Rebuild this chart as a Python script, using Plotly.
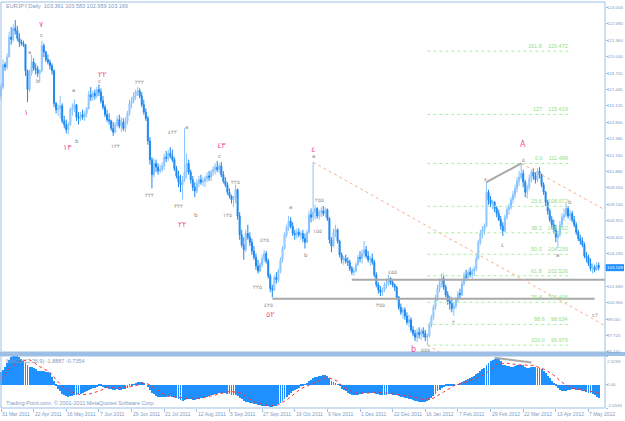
import plotly.graph_objects as go

W, H = 625, 421

# ---------------- data ----------------
first_open = 116.9
closes = [117.6, 119.4, 119.2, 120.0, 121.6, 121.4, 122.3, 122.1, 121.5, 121.2,
          121.1, 121.0, 118.9, 117.4, 118.7, 119.6, 119.1, 119.0, 118.7, 118.9,
          120.9, 120.4, 119.8, 119.6, 119.3, 118.9, 116.3, 115.8, 115.9, 116.1,
          114.9, 114.6, 114.2, 114.6, 115.8, 115.9, 116.2, 115.2, 115.1, 115.4,
          115.2, 115.5, 115.9, 117.0, 116.8, 117.1, 116.9, 117.4, 117.2, 116.5,
          116.0, 115.4, 115.0, 114.9, 114.3, 114.0, 114.6, 115.0, 114.5, 114.8,
          114.3, 114.9, 115.5, 116.3, 116.5, 116.9, 117.2, 117.3, 116.9, 116.2,
          115.6, 115.1, 113.3, 111.8, 110.6, 111.5, 111.2, 110.9, 111.0, 111.3,
          112.0, 111.9, 112.3, 112.1, 111.8, 111.1, 110.5, 110.0, 109.8, 110.2,
          110.8, 111.5, 110.8, 110.2, 109.6, 109.3, 109.9, 110.2, 110.0, 110.1,
          110.3, 110.5, 110.4, 110.8, 111.0, 111.2, 111.0, 111.3, 110.6, 110.1,
          109.8, 109.2, 108.9, 108.6, 108.7, 109.4, 107.3, 105.8, 105.0, 104.6,
          105.9, 105.6, 105.2, 104.5, 104.0, 103.3, 102.9, 103.4, 103.9, 104.3,
          103.7, 102.5, 101.5, 101.4, 102.4, 102.2, 102.9, 103.8, 104.7, 105.8,
          106.4, 106.9, 106.5, 105.9, 105.8, 106.0, 105.8, 105.9, 105.5, 105.2,
          106.0, 107.4, 107.2, 107.6, 107.9, 107.3, 107.6, 107.7, 107.5, 107.8,
          107.1, 105.4, 104.9, 106.0, 106.2, 105.3, 104.2, 103.8, 103.9, 103.7,
          103.6, 103.1, 102.8, 102.9, 103.4, 104.0, 103.9, 104.3, 104.6, 104.1,
          103.8, 103.9, 103.6, 102.6, 101.8, 101.4, 101.2, 101.4, 101.8, 101.9,
          102.3, 102.0, 101.8, 101.6, 100.8, 100.0, 99.6, 99.8, 99.3, 98.8,
          99.0, 98.2, 97.9, 97.6, 98.0, 97.8, 98.1, 97.9, 97.6, 97.7,
          98.6, 99.2, 100.0, 100.8, 101.5, 101.9, 102.3, 101.6, 101.0, 100.5,
          100.3, 99.9, 100.1, 100.6, 101.1, 101.0, 101.9, 102.6, 102.4, 102.8,
          102.6, 102.9, 103.1, 103.9, 105.2, 105.9, 106.2, 106.5, 109.2, 108.6,
          108.3, 108.4, 107.9, 107.5, 107.0, 106.5, 106.1, 107.2, 107.8, 108.0,
          108.6, 109.0, 109.5, 110.1, 110.4, 110.7, 110.0, 109.2, 109.6, 110.3,
          110.8, 110.5, 110.2, 110.9, 110.6, 109.8, 109.2, 108.4, 107.7, 107.0,
          106.6, 106.2, 105.6, 105.8, 106.6, 107.2, 107.4, 107.9, 107.3, 107.5,
          107.0, 106.6, 106.0, 105.5, 105.3, 105.0, 104.1, 104.0, 103.5, 103.1,
          103.2, 103.0, 103.36, 103.169]
highs = [117.9, 119.8, 119.6, 120.3, 122.0, 122.4, 122.6, 122.95, 122.5, 121.9,
         121.4, 121.3, 121.0, 119.0, 119.0, 120.2, 119.9, 119.5, 119.3, 119.0,
         121.3, 121.1, 120.5, 120.2, 119.8, 119.5, 119.0, 116.4, 116.2, 116.9,
         116.3, 115.3, 115.0, 114.8, 116.0, 116.3, 116.6, 116.2, 115.6, 115.6,
         115.8, 115.7, 116.0, 117.3, 117.6, 117.3, 117.4, 117.6, 117.8, 117.5,
         116.9, 116.2, 115.8, 115.5, 115.0, 114.8, 114.8, 115.3, 115.4, 115.2,
         115.1, 115.2, 115.7, 116.6, 116.8, 117.2, 117.4, 117.6, 117.5, 117.2,
         116.6, 115.9, 115.3, 113.6, 112.0, 111.9, 111.8, 111.5, 111.4, 111.6,
         112.3, 112.5, 112.6, 112.8, 112.6, 112.0, 111.3, 110.9, 110.6, 110.5,
         114.3, 112.3, 111.8, 111.0, 110.5, 110.0, 110.2, 110.5, 110.6, 110.4,
         110.5, 110.8, 110.9, 111.0, 111.3, 111.5, 111.7, 111.5, 111.6, 110.9,
         110.4, 110.0, 109.5, 109.0, 108.9, 109.8, 109.5, 107.6, 106.2, 105.6,
         106.2, 106.6, 106.0, 105.5, 104.9, 104.3, 103.8, 103.6, 104.2, 104.6,
         104.5, 103.9, 102.7, 101.8, 102.6, 102.8, 103.1, 104.0, 104.9, 106.0,
         106.6, 107.3, 107.2, 106.8, 106.2, 106.3, 106.3, 106.1, 106.2, 105.9,
         106.2, 107.7, 107.9, 111.6, 108.2, 108.0, 107.8, 108.0, 108.1, 108.0,
         107.9, 107.2, 105.6, 106.3, 106.6, 106.3, 105.4, 104.4, 104.1, 104.2,
         104.0, 103.8, 103.3, 103.2, 103.6, 104.2, 104.5, 104.6, 105.3, 104.9,
         104.5, 104.1, 104.3, 103.8, 102.8, 102.0, 101.7, 101.6, 102.0, 102.3,
         102.6, 102.4, 102.2, 101.9, 101.7, 100.9, 100.3, 100.0, 100.0, 99.6,
         99.4, 99.2, 98.5, 98.2, 98.3, 98.4, 98.3, 98.4, 98.2, 97.9,
         98.8, 99.4, 100.2, 101.0, 101.8, 102.3, 102.7, 102.5, 101.8, 101.3,
         100.9, 100.8, 100.4, 100.8, 101.3, 101.5, 102.2, 102.8, 103.0, 103.0,
         103.2, 103.1, 103.3, 104.2, 105.4, 106.2, 106.5, 106.7, 110.0, 109.4,
         108.9, 108.6, 108.5, 108.1, 107.8, 107.3, 106.8, 107.4, 108.0, 108.3,
         108.8, 109.3, 109.8, 110.4, 110.9, 111.5, 111.0, 110.2, 109.8, 110.6,
         111.0, 111.1, 110.8, 111.1, 111.2, 110.7, 110.0, 109.3, 108.6, 107.9,
         107.3, 107.0, 106.6, 106.1, 106.9, 107.5, 107.9, 108.3, 108.1, 107.8,
         107.7, 107.3, 106.8, 106.2, 105.8, 105.6, 105.2, 104.4, 104.2, 103.9,
         103.5, 103.4, 103.6, 103.583]
lows = [116.6, 117.4, 118.9, 119.0, 120.0, 121.0, 121.2, 121.8, 121.3, 120.8,
        120.9, 120.8, 118.5, 116.4, 117.2, 118.5, 118.9, 118.6, 118.4, 118.0,
        118.8, 120.0, 119.6, 119.4, 119.0, 118.6, 116.0, 115.5, 115.3, 115.1,
        114.7, 114.3, 113.9, 113.8, 114.5, 115.3, 115.6, 114.9, 114.6, 114.9,
        115.0, 114.9, 115.2, 115.8, 116.5, 116.5, 116.6, 116.7, 116.9, 116.3,
        115.8, 115.2, 114.8, 114.6, 114.1, 113.7, 113.9, 114.4, 114.3, 114.0,
        114.1, 114.0, 114.6, 115.3, 115.9, 116.3, 116.6, 116.9, 116.7, 116.0,
        115.4, 114.9, 113.0, 111.4, 109.5, 110.4, 110.8, 110.6, 110.7, 110.8,
        111.0, 111.6, 111.7, 111.9, 111.6, 110.9, 110.3, 109.6, 109.2, 108.6,
        110.0, 110.3, 110.6, 109.9, 109.3, 108.8, 109.1, 109.6, 109.8, 109.7,
        109.6, 110.0, 110.1, 110.1, 110.5, 110.6, 110.8, 110.7, 110.4, 109.9,
        109.6, 109.0, 108.7, 108.3, 108.0, 108.3, 107.0, 105.4, 104.8, 103.8,
        104.4, 105.4, 104.9, 104.2, 103.8, 103.0, 102.7, 102.8, 103.2, 103.6,
        103.5, 102.3, 101.2, 100.8, 101.3, 101.9, 102.0, 102.7, 103.6, 104.6,
        105.6, 106.1, 106.3, 105.7, 105.4, 105.5, 105.6, 105.4, 105.2, 104.7,
        105.1, 105.9, 106.8, 106.9, 107.0, 107.1, 107.0, 107.2, 107.3, 107.2,
        106.9, 105.1, 104.4, 104.8, 105.6, 105.1, 104.0, 103.5, 103.4, 103.5,
        103.3, 102.9, 102.6, 102.5, 102.8, 103.3, 103.6, 103.5, 104.0, 103.9,
        103.6, 103.3, 103.4, 102.4, 101.6, 101.1, 100.9, 100.9, 101.2, 101.5,
        101.7, 101.8, 101.6, 101.3, 100.6, 99.8, 99.4, 99.1, 99.0, 98.6,
        98.4, 98.0, 97.7, 97.3, 97.2, 97.5, 97.4, 97.6, 97.3, 96.98,
        97.6, 98.4, 99.0, 99.8, 100.5, 101.2, 101.6, 101.4, 100.8, 100.2,
        99.8, 99.6, 99.3, 99.9, 100.4, 100.7, 100.9, 101.7, 102.1, 102.2,
        102.4, 102.3, 102.5, 102.9, 103.8, 105.0, 105.5, 105.8, 106.4, 108.2,
        108.0, 107.8, 107.6, 107.2, 106.9, 106.2, 105.7, 106.0, 107.0, 107.4,
        107.8, 108.3, 108.7, 109.2, 109.7, 110.2, 109.6, 108.8, 108.7, 109.4,
        110.0, 110.2, 109.9, 110.0, 110.3, 109.6, 109.0, 108.1, 107.4, 106.8,
        106.3, 105.9, 105.2, 104.7, 105.6, 106.4, 106.9, 107.2, 107.1, 106.9,
        106.8, 106.4, 105.8, 105.3, 105.0, 104.8, 103.9, 103.6, 103.3, 102.9,
        102.7, 102.8, 102.9, 102.959]

macd = [1.1, 1.3, 1.6, 1.9, 2.2, 2.4, 2.5, 2.53, 2.5, 2.45,
        2.3, 2.1, 1.9, 1.7, 1.6, 1.55, 1.45, 1.35, 1.25, 1.2,
        1.25, 1.2, 1.15, 1.1, 1.05, 0.7, 0.3, -0.1, -0.4, -0.6,
        -0.8, -0.9, -1.0, -1.05, -1.0, -1.0, -0.95, -0.9, -0.85, -0.8,
        -0.7, -0.65, -0.6, -0.45, -0.35, -0.3, -0.25, -0.2, -0.15, -0.15,
        -0.2, -0.25, -0.3, -0.35, -0.4, -0.45, -0.45, -0.4, -0.45, -0.45,
        -0.4, -0.35, -0.25, -0.15, -0.05, 0.05, 0.15, 0.2, 0.25, 0.2,
        0.1, 0.0, -0.2, -0.45, -0.7, -0.85, -1.0, -1.05, -1.1, -1.1,
        -1.1, -1.05, -1.0, -1.0, -1.05, -1.1, -1.2, -1.25, -1.35, -1.4,
        -1.35, -1.3, -1.3, -1.3, -1.35, -1.35, -1.3, -1.25, -1.2, -1.15,
        -1.1, -1.05, -1.0, -0.95, -0.9, -0.85, -0.8, -0.75, -0.72, -0.72,
        -0.75, -0.78, -0.82, -0.88, -0.92, -0.9, -1.0, -1.15, -1.3, -1.45,
        -1.5, -1.55, -1.6, -1.65, -1.7, -1.75, -1.8, -1.82, -1.85, -1.85,
        -1.85, -1.9, -1.95, -1.95, -1.9, -1.85, -1.75, -1.6, -1.45, -1.3,
        -1.1, -0.9, -0.7, -0.55, -0.45, -0.35, -0.25, -0.15, -0.05, 0.05,
        0.15, 0.3, 0.45, 0.55, 0.65, 0.7, 0.75, 0.8, 0.85, 0.82,
        0.75, 0.55, 0.35, 0.25, 0.15, 0.05, -0.15, -0.35, -0.5, -0.6,
        -0.7, -0.8, -0.9, -0.95, -0.95, -0.9, -0.85, -0.8, -0.75, -0.7,
        -0.72, -0.7, -0.72, -0.75, -0.8, -0.85, -0.9, -0.92, -0.9, -0.88,
        -0.85, -0.85, -0.88, -0.9, -0.95, -1.0, -1.05, -1.1, -1.15, -1.2,
        -1.25, -1.3, -1.35, -1.4, -1.45, -1.5, -1.52, -1.5, -1.5, -1.45,
        -1.35, -1.2, -1.0, -0.8, -0.6, -0.45, -0.3, -0.2, -0.15, -0.1,
        -0.1, -0.08, -0.05, 0.0, 0.05, 0.1, 0.2, 0.3, 0.4, 0.5,
        0.55, 0.65, 0.75, 0.9, 1.05, 1.2, 1.35, 1.5, 1.75, 1.95,
        2.1, 2.2, 2.25, 2.3, 2.25, 2.05, 1.75, 1.7, 1.65, 1.65,
        1.6, 1.6, 1.65, 1.7, 1.75, 1.75, 1.7, 1.6, 1.5, 1.5,
        1.55, 1.55, 1.55, 1.5, 1.45, 1.35, 1.2, 1.0, 0.8, 0.55,
        0.35, 0.15, -0.1, -0.3, -0.45, -0.55, -0.6, -0.55, -0.5, -0.45,
        -0.42, -0.42, -0.45, -0.5, -0.5, -0.55, -0.6, -0.65, -0.7, -0.75,
        -0.85, -0.95, -1.05, -1.15]

signal_idx = [0, 4, 9, 14, 19, 24, 27, 30, 34, 39, 44, 49, 52, 57, 65, 70, 73, 78, 81,
              91, 98, 104, 112, 117, 124, 130, 135, 140, 147, 153, 158, 161, 165, 168,
              173, 179, 184, 194, 200, 207, 212, 217, 222, 228, 235, 240, 243, 248, 254,
              261, 267, 272, 275, 280, 287, 293]
signal_val = [0.45, 1.4, 2.05, 2.2, 1.6, 1.1, 0.45, -0.15, -0.6, -0.9, -0.8, -0.5, -0.2,
              -0.3, -0.15, 0.15, 0.0, -0.6, -1.0, -1.2, -1.2, -0.95, -0.6, -0.7, -1.5,
              -1.8, -1.85, -1.35, -0.35, 0.1, 0.55, 0.6, 0.3, -0.25, -0.7, -0.75, -0.65,
              -0.85, -1.0, -1.3, -1.2, -0.65, -0.1, 0.25, 0.7, 1.3, 1.8, 1.9, 1.75, 1.7,
              1.3, 0.7, 0.2, -0.3, -0.5, -0.74]

date_idx = [0, 16, 32, 48, 64, 80, 96, 112, 128, 144, 160, 176, 192, 208, 224, 240, 256, 272, 288]
date_txt = ["31 Mar 2011", "22 Apr 2011", "16 May 2011", "7 Jun 2011", "29 Jun 2011",
            "21 Jul 2011", "12 Aug 2011", "5 Sep 2011", "27 Sep 2011", "19 Oct 2011",
            "9 Nov 2011", "1 Dec 2011", "22 Dec 2011", "16 Jan 2012", "7 Feb 2012",
            "29 Feb 2012", "22 Mar 2012", "13 Apr 2012", "7 May 2012"]
price_ticks = [124.000, 122.680, 121.360, 120.040, 118.720, 117.440, 116.120, 114.800,
               113.480, 112.160, 110.880, 109.560, 108.240, 106.920, 105.600, 104.280,
               101.680, 100.360, 99.040, 97.720, 96.440]
macd_ticks = [2.5294, 0.0, -2.0594]
macd_tick_txt = ["2.5294", "0.00", "-2.0594"]

fib_levels = ["161.8", "127", "0.0", "23.6", "38.2", "50.0", "61.8", "76.4", "88.6", "100.0"]
fib_prices = [120.472, 115.419, 111.499, 108.072, 105.952, 104.239, 102.526, 100.406, 98.634, 96.979]
fib_x = [209, 279]

hlines_price = [102.21, 100.68]
hlines_x = [[172, 296.5], [133, 291]]
trend_x = [[153, 296.5], [255, 296.5], [209, 229]]
trend_y = [[111.6, 98.5], [111.5, 107.75], [96.98, 95.15]]
wave_x = [238, 255]
wave_y = [110.0, 111.5]
mdiv_x = [242, 260]
mdiv_y = [2.37, 1.96]

gray_labels = [("a", 14.2, 120.4), ("b", 18.1, 118.1), ("c", 20, 121.8),
               ("a", 35.3, 117.4), ("b", 37.3, 113.3), ("c", 48.5, 118.1),
               ("١٢٢", 55.9, 112.9), ("٢٢٢", 68, 118.0), ("٢٢٢", 73, 109.0),
               ("٤٢٢", 84, 114.0), ("٣٢٢", 87, 108.1), ("a", 91, 114.4),
               ("b", 95.6, 107.4), ("c", 107, 112.1), ("١٢٥", 111, 107.4),
               ("٢٢٥", 115, 110.0), ("٢٢٥", 125.5, 101.6), ("٤٢٥", 129.4, 105.4),
               ("٤٢٥", 131, 100.2), ("a", 141.7, 108.0), ("b", 149.5, 104.2),
               ("a", 153, 112.1), ("٢٥٥", 156, 108.6), ("١٥٥", 155, 106.1),
               ("٤٥٥", 192, 102.8), ("٣٥٥", 186, 100.2), ("٥٥٥", 208, 96.6),
               ("١", 216.7, 102.6), ("٢", 222, 98.8), ("٣", 237.7, 110.2),
               ("٤", 246, 105.0), ("٥", 256, 111.8), ("a", 273, 104.2),
               ("b", 279, 108.4), ("c?", 291, 99.4)]
pink_labels = [("١", 12.3, 115.6), ("٧", 20, 122.6), ("١٣", 32.4, 112.8),
               ("٢٢", 50, 118.6), ("٢٢", 89, 106.6), ("٤٣", 108, 112.9),
               ("٥٢", 132, 99.4), ("٤", 153, 112.6), ("b", 202, 96.6), ("A", 256, 113.0)]

# ---------------- figure ----------------
idx = list(range(len(closes)))
opens = [first_open] + closes[:-1]
hi = [max(h, o, c) for h, o, c in zip(highs, opens, closes)]
lo = [min(l, o, c) for l, o, c in zip(lows, opens, closes)]

AX = "#9DBFE6"
TXT = "#7F9BC4"
FONT = "Liberation Sans"
XR = [-0.49, 296.1]
YR = [96.43, 124.40]
MR = [-2.0594, 2.5294]
PTOP, PBOT = 2, 352
MTOP, MBOT = 356, 408

def py(p):
    return 1 - p / H

def price_px(v):
    return PTOP + (YR[1] - v) / (YR[1] - YR[0]) * (PBOT - PTOP)

def macd_px(v):
    return MTOP + (MR[1] - v) / (MR[1] - MR[0]) * (MBOT - MTOP)

fig = go.Figure()
fig.add_trace(go.Candlestick(
    x=idx, open=opens, high=hi, low=lo, close=closes, xaxis="x", yaxis="y",
    increasing=dict(line=dict(color="#86C2FF", width=1), fillcolor="#B8DCFF"),
    decreasing=dict(line=dict(color="#1E88F0", width=1), fillcolor="#1E88F0"),
    whiskerwidth=0, hoverinfo="skip", showlegend=False))

# fibo lines
for lv, pr in zip(fib_levels, fib_prices):
    fig.add_trace(go.Scatter(x=fib_x, y=[pr, pr], mode="lines", xaxis="x", yaxis="y",
                             line=dict(color="#A8F0A0", width=1, dash="dot"),
                             hoverinfo="skip", showlegend=False))
    fig.add_annotation(x=fib_x[1], y=pr, xref="x", yref="y", text=f"{lv}    {pr:.3f}",
                       showarrow=False, xanchor="right", yanchor="bottom",
                       font=dict(family=FONT, size=5.5, color="#8EE08A"))

for pr, xs in zip(hlines_price, hlines_x):
    fig.add_trace(go.Scatter(x=xs, y=[pr, pr], mode="lines", xaxis="x", yaxis="y",
                             line=dict(color="#A9A9A9", width=2),
                             hoverinfo="skip", showlegend=False))
for xs, ys in zip(trend_x, trend_y):
    fig.add_trace(go.Scatter(x=xs, y=ys, mode="lines", xaxis="x", yaxis="y",
                             line=dict(color="#F8B08C", width=1, dash="dot"),
                             hoverinfo="skip", showlegend=False))
fig.add_trace(go.Scatter(x=wave_x, y=wave_y, mode="lines", xaxis="x", yaxis="y",
                         line=dict(color="#A9A9A9", width=2), hoverinfo="skip", showlegend=False))

# MACD
fig.add_trace(go.Bar(x=idx, y=macd, xaxis="x2", yaxis="y2",
                     marker=dict(color="#1E90FF", line=dict(width=0)),
                     width=0.45, hoverinfo="skip", showlegend=False))
fig.add_trace(go.Scatter(x=signal_idx, y=signal_val, mode="lines", xaxis="x2", yaxis="y2",
                         line=dict(color="#FF3030", width=1, dash="dot"), hoverinfo="skip", showlegend=False))
fig.add_trace(go.Scatter(x=mdiv_x, y=mdiv_y, mode="lines", xaxis="x2", yaxis="y2",
                         line=dict(color="#A9A9A9", width=2), hoverinfo="skip", showlegend=False))

for t, x, y in gray_labels:
    fig.add_annotation(x=x, y=y, xref="x", yref="y", text=t, showarrow=False,
                       font=dict(family="DejaVu Sans", size=5.5, color="#8C8C8C"))
for t, x, y in pink_labels:
    fig.add_annotation(x=x, y=y, xref="x", yref="y", text=t, showarrow=False,
                       font=dict(family="DejaVu Sans", size=8, color="#F0509A"))

for i, t in zip(date_idx, date_txt):
    fig.add_annotation(x=i, y=py(414), xref="x2", yref="paper", text=t, showarrow=False,
                       xanchor="left", yanchor="middle", xshift=-1,
                       font=dict(family=FONT, size=5, color=TXT))

# right-side axis labels
LBL_X = 606 / W
for v in price_ticks:
    ypx = min(price_px(v), 351)
    fig.add_annotation(x=LBL_X, y=py(ypx), xref="paper", yref="paper", text=f"{v:.3f}",
                       showarrow=False, xanchor="left", yanchor="middle", borderpad=0,
                       font=dict(family=FONT, size=4.4, color=TXT))
for v, t in zip(macd_ticks, macd_tick_txt):
    ypx = min(max(macd_px(v), 361), 405)
    fig.add_annotation(x=LBL_X, y=py(ypx), xref="paper", yref="paper", text=t,
                       showarrow=False, xanchor="left", yanchor="middle", borderpad=0,
                       font=dict(family=FONT, size=4.4, color=TXT))

fig.add_annotation(x=4 / W, y=py(6), xref="paper", yref="paper",
                   text="EURJPY,Daily  103.361 103.583 102.959 103.169", showarrow=False,
                   xanchor="left", yanchor="middle", font=dict(family=FONT, size=5.5, color=TXT))
fig.add_annotation(x=4 / W, y=py(361), xref="paper", yref="paper",
                   text="MACD(12,26,9) -1.8887 -0.7354", showarrow=False,
                   xanchor="left", yanchor="middle", font=dict(family=FONT, size=5.5, color=TXT))
fig.add_annotation(x=4 / W, y=py(403), xref="paper", yref="paper",
                   text="Trading-Point.com, © 2001-2011 MetaQuotes Software Corp.", showarrow=False,
                   xanchor="left", yanchor="middle", font=dict(family=FONT, size=5.5, color=TXT))

# current price box
cp = price_px(closes[-1])
fig.add_shape(type="rect", xref="paper", yref="paper", x0=605.5 / W, x1=624 / W,
              y0=py(cp + 3.5), y1=py(cp - 3.5), fillcolor="#1E90FF", line=dict(width=0))
fig.add_annotation(x=LBL_X, y=py(cp), xref="paper", yref="paper", text=f"{closes[-1]:.3f}",
                   showarrow=False, xanchor="left", yanchor="middle", borderpad=0,
                   font=dict(family=FONT, size=4.4, color="white"))

# frames
xr = 605 / W
fig.add_shape(type="rect", xref="paper", yref="paper", x0=1 / W, x1=xr, y0=py(PBOT), y1=py(PTOP),
              line=dict(color=AX, width=1))
fig.add_shape(type="rect", xref="paper", yref="paper", x0=1 / W, x1=xr, y0=py(MBOT), y1=py(MTOP),
              line=dict(color=AX, width=1))
fig.add_shape(type="rect", xref="paper", yref="paper", x0=0, x1=1, y0=py(356), y1=py(352),
              fillcolor=AX, line=dict(width=0))

fig.update_layout(
    width=W, height=H, margin=dict(l=0, r=0, t=0, b=0),
    paper_bgcolor="white", plot_bgcolor="white", bargap=0,
    xaxis=dict(domain=[0, xr], range=XR, anchor="y", showticklabels=False, showgrid=False,
               zeroline=False, rangeslider=dict(visible=False), fixedrange=True),
    yaxis=dict(domain=[py(PBOT), py(PTOP)], range=YR, side="right", anchor="x",
               tickmode="array", tickvals=price_ticks, showticklabels=False,
               ticks="outside", ticklen=2, tickcolor=AX, showgrid=False, zeroline=False,
               automargin=False),
    xaxis2=dict(domain=[0, xr], range=XR, anchor="y2", showticklabels=False, showgrid=False,
                zeroline=False, tickmode="array", tickvals=date_idx, ticks="outside", ticklen=3,
                tickcolor=AX, automargin=False),
    yaxis2=dict(domain=[py(MBOT), py(MTOP)], range=MR, side="right", anchor="x2",
                tickmode="array", tickvals=macd_ticks, showticklabels=False, ticks="outside",
                ticklen=2, tickcolor=AX, showgrid=False, zeroline=False, automargin=False),
)

fig.write_html("out.html")
